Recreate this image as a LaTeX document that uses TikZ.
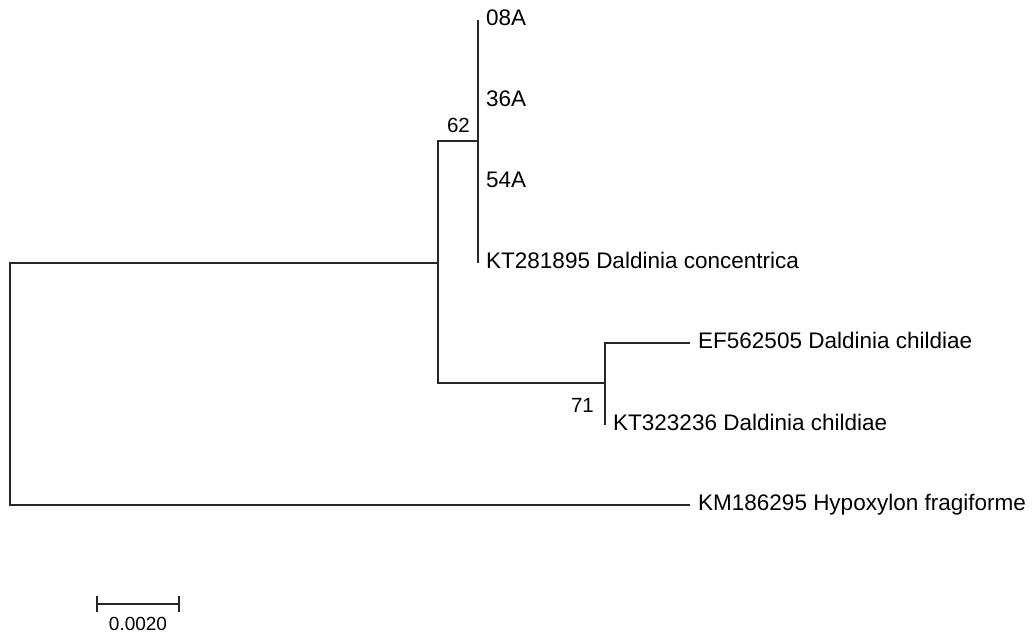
\documentclass[tikz,border=0pt]{standalone}
\usepackage{fontspec}
\setmainfont{Liberation Sans}
\usetikzlibrary{positioning}

\begin{document}
\begin{tikzpicture}[
    x=1pt, y=-1pt,
    branch/.style={line width=1.5pt, black!85},
    taxon/.style={anchor=base west, inner sep=0pt, xshift=8pt, yshift=-5pt,
        font=\fontsize{22.5}{26}\selectfont},
    boot/.style={anchor=base east, inner sep=0pt, font=\fontsize{20.5}{24}\selectfont}
]
\useasboundingbox (0,0) rectangle (1033,637);

% internal nodes
\coordinate (root) at (10,384);
\coordinate (nA) at (438,263);
\coordinate (nCon) at (478,141);
\coordinate (nChi) at (605,383);

% tips
\coordinate (t08) at (478,20);
\coordinate (t36) at (478,101);
\coordinate (t54) at (478,182);
\coordinate (tKT281) at (478,263);
\coordinate (tEF) at (690,343);
\coordinate (tKT323) at (605,425);
\coordinate (tKM) at (690,505);

% branches
\draw[branch] (nA) -| (root) |- (tKM);
\draw[branch] (nCon) -| (nA) |- (nChi);
\draw[branch] (t08) -- (tKT281);
\draw[branch] (tEF) -| (nChi) -- (tKT323);

% taxon labels
\node[taxon] (l08) at (t08) {08A};
\node[taxon] (l36) at (t36) {36A};
\node[taxon] (l54) at (t54) {54A};
\node[taxon] (lKT281) at (tKT281) {KT281895 Daldinia concentrica};
\node[taxon] (lEF) at (tEF) {EF562505 Daldinia childiae};
\node[taxon] (lKT323) at (tKT323) {KT323236 Daldinia childiae};
\node[taxon] (lKM) at (tKM) {KM186295 Hypoxylon fragiforme};

% bootstrap values
\node[boot, xshift=-8pt, yshift=9pt] (b62) at (nCon) {62};
\node[boot, xshift=-11pt, yshift=-29pt] (b71) at (nChi) {71};

% scale bar
\coordinate (sL) at (97,604);
\coordinate (sR) at (179,604);
\draw[branch] (sL) -- (sR);
\draw[branch] ([yshift=8pt]sL) -- ([yshift=-8pt]sL);
\draw[branch] ([yshift=8pt]sR) -- ([yshift=-8pt]sR);
\node[anchor=base, inner sep=0pt, font=\fontsize{19}{22}\selectfont] (scaleLab) at (138,630) {0.0020};
\end{tikzpicture}
\end{document}
